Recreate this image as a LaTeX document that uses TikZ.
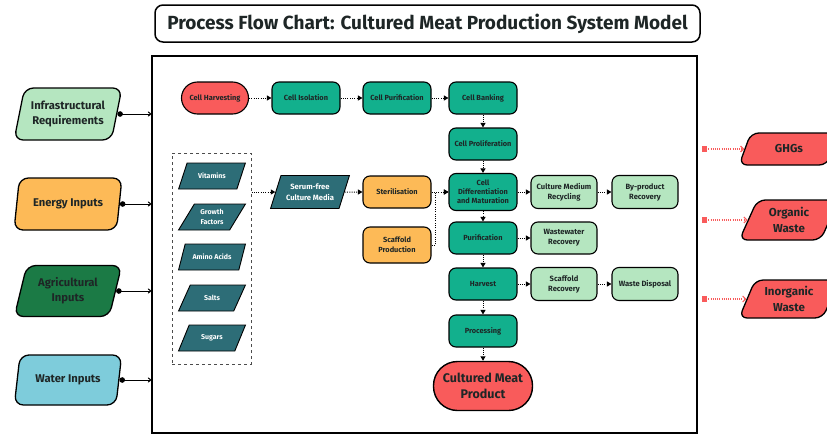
\documentclass[tikz,border=0pt]{standalone}
\usepackage{fontspec}
\setmainfont{Fira Sans}
\usetikzlibrary{shapes.geometric,arrows.meta}
\definecolor{cTeal}{HTML}{12B08D}
\definecolor{cLight}{HTML}{B5E6C0}
\definecolor{cOrange}{HTML}{FDBA57}
\definecolor{cRed}{HTML}{F95B5B}
\definecolor{cDGreen}{HTML}{1B7A45}
\definecolor{cBlue}{HTML}{7ECCDB}
\definecolor{cDTeal}{HTML}{2D6D77}
\definecolor{cText}{HTML}{1E2626}
\begin{document}
\begin{tikzpicture}[x=1pt,y=-1pt,
  box/.style={draw=black, line width=1.1pt, rounded corners=7pt, minimum width=68pt, minimum height=32pt, align=center, inner sep=1pt, text=cText, font=\fontsize{7.4}{9.6}\selectfont\bfseries},
  proc/.style={box, fill=cTeal},
  recov/.style={box, fill=cLight, minimum width=66pt, minimum height=33pt, font=\fontsize{7.6}{10}\selectfont\bfseries},
  prep/.style={box, fill=cOrange},
  endbox/.style={box, fill=cRed, rounded corners=16pt},
  para/.style={trapezium, trapezium stretches=true, draw=black, align=center, inner sep=1pt},
  inp/.style={para, trapezium left angle=72, trapezium right angle=108, line width=1.3pt, rounded corners=9pt, minimum width=108pt, minimum height=52pt, text=cText, font=\fontsize{11.2}{15}\selectfont\bfseries},
  outp/.style={para, trapezium left angle=66, trapezium right angle=114, line width=1.3pt, rounded corners=8pt, minimum width=100pt, fill=cRed, text=cText, font=\fontsize{11.5}{15.5}\selectfont\bfseries},
  ingr/.style={para, trapezium left angle=57, trapezium right angle=123, line width=0.9pt, minimum width=67pt, minimum height=26pt, fill=cDTeal, text=white, font=\fontsize{7}{10}\selectfont\bfseries},
  flow/.style={line width=1pt, dash pattern=on 1pt off 1.3pt, -{Triangle[length=4.5pt,width=5pt]}},
  feed/.style={line width=1pt, {Circle[length=5.5pt]}-{To[length=3.5pt,width=5pt]}},
  emit/.style={line width=1.1pt, draw=cRed, dash pattern=on 1pt off 1.2pt, {Square[length=5pt,width=6pt,fill=cRed]}-{Straight Barb[length=3pt,width=6pt]}}
]
\useasboundingbox (0,0) rectangle (827,434);
\clip (0,0) rectangle (827,434);

% title and frame
\node[draw=black, line width=1.5pt, rounded corners=8pt, minimum width=545pt, minimum height=37pt, font=\fontsize{19}{22}\selectfont\bfseries, text=cText] (title) at (427.5,23.5) {Process Flow Chart: Cultured Meat Production System Model};
\node[draw=black, line width=1.3pt, minimum width=545pt, minimum height=377pt, inner sep=0pt] (frame) at (424.5,244.5) {};

% inputs
\node[inp, fill=cLight] (infra) at (68,114) {Infrastructural\\Requirements};
\node[inp, fill=cOrange] (energy) at (68,204) {Energy Inputs};
\node[inp, fill=cDGreen, minimum height=51pt] (agri) at (68,291) {Agricultural\\Inputs};
\node[inp, fill=cBlue, minimum height=50pt] (water) at (68,380) {Water Inputs};

\foreach \n in {infra,energy,agri,water}
  \draw[feed] (\n.east) -- (\n.east -| frame.west);

% outputs
\node[outp, minimum height=32pt] (ghg) at (789,149) {GHGs};
\node[outp, minimum height=40pt] (org) at (789,220) {Organic\\Waste};
\node[outp, minimum height=38pt] (inorg) at (789,299) {Inorganic\\Waste};
\foreach \n in {ghg,org,inorg}
  \draw[emit] (\n.west -| frame.east) ++(4,0) -- (\n.west);

% top row
\node[endbox, minimum width=67pt] (harv) at (215,98) {Cell Harvesting};
\node[proc] (iso) at (306,98) {Cell Isolation};
\node[proc] (pur) at (397,98) {Cell Purification};
\node[proc] (bank) at (483,98) {Cell Banking};
\node[proc] (prol) at (483,144) {Cell Proliferation};

% main column
\node[proc, minimum height=37pt, font=\fontsize{7.4}{9}\selectfont\bfseries] (diff) at (483,192) {Cell\\Differentiation\\and Maturation};
\node[proc] (purif) at (483,238) {Purification};
\node[proc] (harvest) at (483,284) {Harvest};
\node[proc] (procs) at (483,331) {Processing};
\node[endbox, minimum width=99pt, minimum height=49pt, rounded corners=24pt, line width=1.4pt, font=\fontsize{12.5}{16}\selectfont\bfseries] (meat) at (483,386) {Cultured Meat\\Product};

% ingredients
\node[draw=black!70, line width=1pt, dashed, minimum width=79pt, minimum height=211pt, inner sep=0pt] (group) at (211.5,258.5) {};
\node[ingr] (vit) at (212,176) {Vitamins};
\node[ingr] (gf) at (212,217) {Growth\\Factors};
\node[ingr] (aa) at (212,257) {Amino Acids};
\node[ingr] (salt) at (212,298) {Salts};
\node[ingr] (sug) at (212,338) {Sugars};
\node[para, trapezium left angle=64, trapezium right angle=116, line width=0.9pt, minimum width=79pt, minimum height=33pt, fill=cDTeal, text=white, font=\fontsize{7.6}{10.5}\selectfont\bfseries] (serum) at (310,192) {Serum-free\\Culture Media};

\node[prep] (ster) at (397,192) {Sterilisation};
\node[prep, minimum height=36pt] (scaf) at (397,245) {Scaffold\\Production};

% recovery
\node[recov] (cmr) at (564,192) {Culture Medium\\Recycling};
\node[recov] (byp) at (645,192) {By-product\\Recovery};
\node[recov, minimum height=32pt] (ww) at (564,238) {Wastewater\\Recovery};
\node[recov] (scr) at (564,284) {Scaffold\\Recovery};
\node[recov] (wd) at (645,284) {Waste Disposal};

% flows
\draw[flow] (harv) -- (iso);
\draw[flow] (iso) -- (pur);
\draw[flow] (pur) -- (bank);
\draw[flow] (bank) -- (prol);
\draw[flow] (prol) -- (diff);
\draw[flow] (diff) -- (purif);
\draw[flow] (purif) -- (harvest);
\draw[flow] (harvest) -- (procs);
\draw[flow] (procs) -- (meat);
\draw[flow] (serum.west -| group.east) -- (serum.west);
\draw[flow] (serum.east) -- (ster.west);
\draw[flow] (ster) -- (diff);
\draw[flow] (scaf.east) -- ++(4,0) |- (diff.west);
\draw[flow] (diff) -- (cmr);
\draw[flow] (cmr) -- (byp);
\draw[flow] (purif) -- (ww);
\draw[flow] (harvest) -- (scr);
\draw[flow] (scr) -- (wd);
\end{tikzpicture}
\end{document}
